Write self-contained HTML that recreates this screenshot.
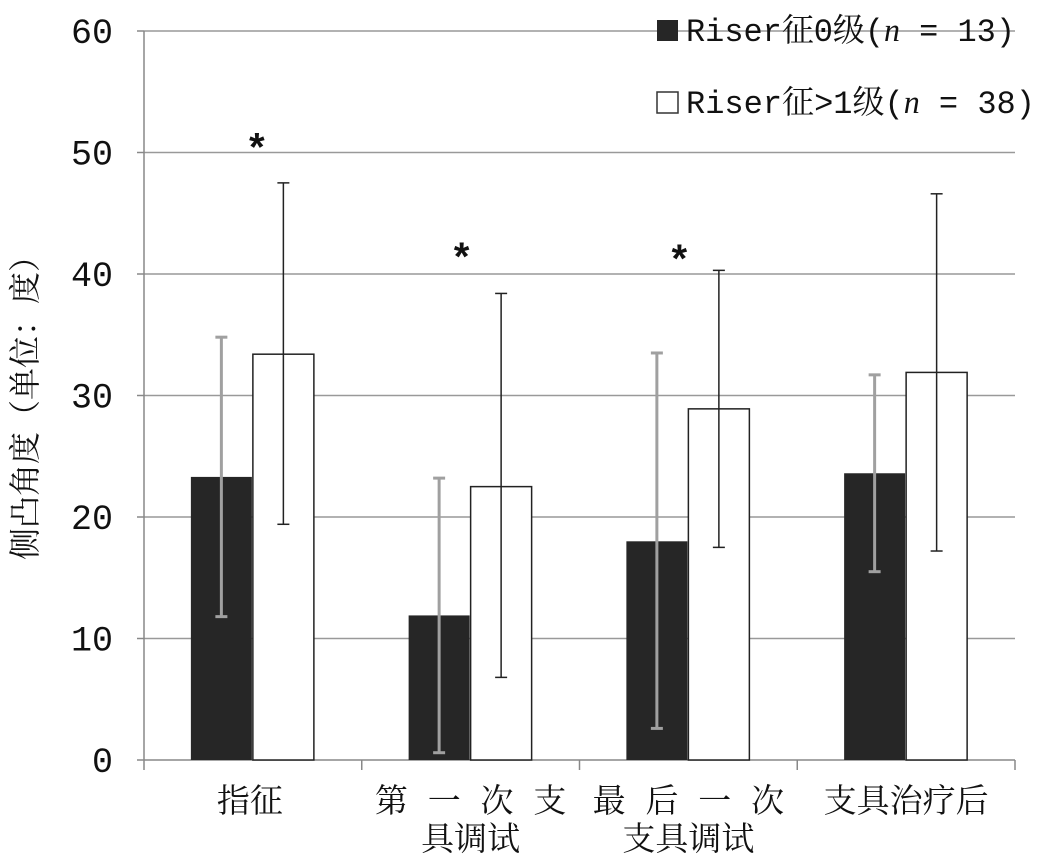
<!DOCTYPE html>
<html><head><meta charset="utf-8"><style>
body{margin:0;background:#fff}
svg{display:block}
text{font-family:"Liberation Mono","Noto Serif CJK SC","Noto Sans CJK SC",monospace;fill:#111}
</style></head><body>
<svg id="chart" width="1064" height="864" viewBox="0 0 1064 864" xmlns="http://www.w3.org/2000/svg"></svg>
<script>
const categories=[["指征"],["第 一 次 支","具调试"],["最 后 一 次","支具调试"],["支具治疗后"]];
const grade0Values=[23.3,11.9,18.0,23.6];
const grade0Low=[11.8,0.6,2.6,15.5];
const grade0High=[34.8,23.2,33.5,31.7];
const grade1Values=[33.4,22.5,28.9,31.9];
const grade1Low=[19.4,6.8,17.5,17.2];
const grade1High=[47.5,38.4,40.3,46.6];
const significant=[true,true,true,false];
const starLevel=[51.2,42.2,42.0,0];
const yTicks=[0,10,20,30,40,50,60];

const svg=document.getElementById('chart');
const NS='http://www.w3.org/2000/svg';
const L=144,R=1015,T=31,B=760;
const y=v=>B-(v/60)*(B-T);
const gw=(R-L)/categories.length;
const gx=i=>L+gw*i;
function mk(tag,attrs,parent){const e=document.createElementNS(NS,tag);for(const k in attrs)e.setAttribute(k,attrs[k]);(parent||svg).appendChild(e);return e;}

yTicks.forEach(t=>{
  if(t>0){const g=mk('line',{x1:L,x2:R,y1:y(t),y2:y(t),stroke:'#999','stroke-width':1.5});
  
  }
  mk('line',{x1:L-7,x2:L,y1:y(t),y2:y(t),stroke:'#888','stroke-width':1.5});
  const tx=mk('text',{x:113,y:y(t)+12,'text-anchor':'end','font-size':35,'font-family':'Liberation Sans'});
  tx.textContent=t;
  
  
});
mk('line',{x1:L,x2:L,y1:T,y2:B,stroke:'#888','stroke-width':1.5});
mk('line',{x1:L,x2:R,y1:B,y2:B,stroke:'#888','stroke-width':1.5});
for(let i=0;i<=categories.length;i++)mk('line',{x1:gx(i),x2:gx(i),y1:B,y2:B+10,stroke:'#888','stroke-width':1.5});

function errbar(cx,lo,hi,color,w,name){
  const g=mk('g',{});
  
  
  mk('line',{x1:cx,x2:cx,y1:y(lo),y2:y(hi),stroke:color,'stroke-width':w},g);
  mk('line',{x1:cx-6,x2:cx+6,y1:y(lo),y2:y(lo),stroke:color,'stroke-width':w},g);
  mk('line',{x1:cx-6,x2:cx+6,y1:y(hi),y2:y(hi),stroke:color,'stroke-width':w},g);
}
const bw=61;
categories.forEach((c,i)=>{
  const cx=gx(i)+gw/2;
  const b0=mk('rect',{x:cx-bw-1,y:y(grade0Values[i]),width:bw,height:B-y(grade0Values[i]),fill:'#262626'});
  
  
  const b1=mk('rect',{x:cx,y:y(grade1Values[i]),width:bw,height:B-y(grade1Values[i]),fill:'#fff',stroke:'#222','stroke-width':1.5});
  
  
  errbar(cx-bw/2-1,grade0Low[i],grade0High[i],'#a0a0a0',3,'error-bar-grade0-'+i);
  errbar(cx+bw/2,grade1Low[i],grade1High[i],'#222',1.5,'error-bar-grade1-'+i);
  if(significant[i]){
    const s=mk('text',{x:cx+(i===0?4:-9),y:y(starLevel[i])+24,'text-anchor':'middle','font-size':40,'font-weight':'bold','font-family':'Liberation Sans'});
    s.textContent='*';
    
    
  }
  c.forEach((ln,j)=>{
    const t=mk('text',{x:cx+(i===0?-3:0),y:812+j*38,'text-anchor':'middle','font-size':33});
    t.textContent=ln;
    
    
  });
});
const yl=mk('text',{x:0,y:0,'text-anchor':'middle','font-size':32,transform:'translate(36,400) rotate(-90)'});
yl.textContent='侧凸角度（单位：度）';



const lg=mk('g',{});


mk('rect',{x:657,y:20,width:21,height:21,fill:'#262626'},lg);
mk('rect',{x:657,y:92,width:21,height:21,fill:'#fff',stroke:'#333','stroke-width':1.5},lg);
const l1=mk('text',{x:686,y:41,'font-size':32.5,textLength:329,lengthAdjust:'spacingAndGlyphs'},lg);
l1.innerHTML='Riser征0级(<tspan font-style="italic" font-family="Liberation Serif">n</tspan> = 13)';


const l2=mk('text',{x:686,y:113,'font-size':32.5,textLength:349,lengthAdjust:'spacingAndGlyphs'},lg);
l2.innerHTML='Riser征&gt;1级(<tspan font-style="italic" font-family="Liberation Serif">n</tspan> = 38)';


</script>
</body></html>
